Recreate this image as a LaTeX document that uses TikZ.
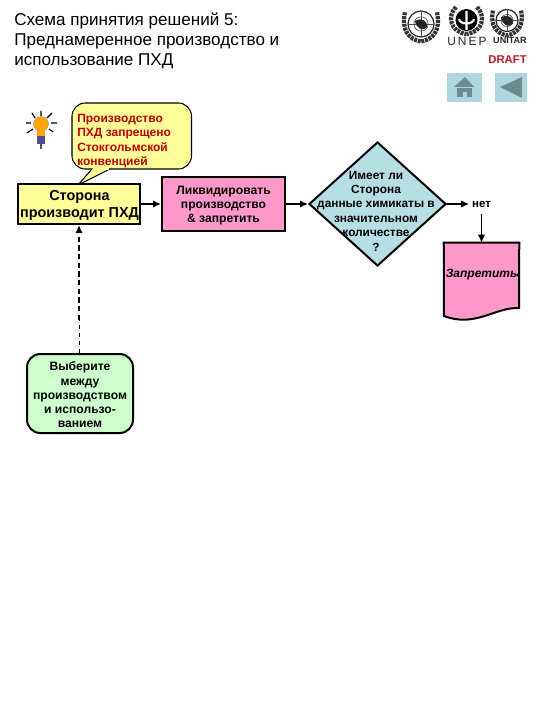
\documentclass[tikz,border=0pt]{standalone}
\usepackage{fontspec}
\setmainfont{Liberation Sans}
\usetikzlibrary{shapes.geometric,arrows.meta,calc}
\definecolor{boxyellow}{HTML}{FFFF99}
\definecolor{boxpink}{HTML}{FF99CC}
\definecolor{boxblue}{HTML}{B7DEE4}
\definecolor{boxgreen}{HTML}{CCFFCC}
\definecolor{draftred}{HTML}{B5202A}
\definecolor{iconbg}{HTML}{AFD6DC}
\definecolor{icongrey}{HTML}{6C8C94}
\definecolor{calloutred}{HTML}{C00000}
\tikzset{
  fb/.style={draw=black,line width=1.5pt,inner sep=0},
  boxtext/.style={inner sep=0,align=center},
  flow/.style={draw=black,line width=1.1pt,-{Latex[length=6pt,width=5.5pt]}},
  ray/.style={line width=0.9pt,black},
  laurel/.style={line width=3.2pt,black!80,dash pattern=on 2.2pt off 0.7pt},
}
\begin{document}
\begin{tikzpicture}[x=0.75pt,y=-0.75pt]
\useasboundingbox (0,0) rectangle (540,720);
% title
\node[anchor=west,inner sep=0,align=left,font=\fontsize{12.8pt}{15pt}\selectfont] (title) at (14,41)
 {Схема принятия решений 5:\\Преднамеренное производство и\\использование ПХД};
% logos
\foreach \n/\cx/\cy/\r in {a/421/24/13,c/507/20.5/11}{
  \coordinate (\n) at (\cx,\cy);
  \draw[line width=.9pt,black!85] (\n) circle[radius=\r];
  \draw[line width=.5pt,black!70] (\n) circle[radius=\r*0.55];
  \draw[line width=.5pt,black!70] ($(\n)+(-\r,0)$) -- ($(\n)+(\r,0)$) ($(\n)+(0,-\r)$) -- ($(\n)+(0,\r)$);
  \fill[black!85] ($(\n)+(-6,-3)$) .. controls ($(\n)+(1,-7)$) and ($(\n)+(7,-3)$) .. ($(\n)+(6,3)$) .. controls ($(\n)+(1,8)$) and ($(\n)+(-5,4)$) .. cycle;
  \draw[laurel] ($(\n)+(-\r-3,-\r*0.9)$) .. controls ($(\n)+(-\r*1.3-3,\r*0.5)$) and ($(\n)+(-\r*0.9,\r*1.2)$) .. ($(\n)+(0,\r*1.35)$);
  \draw[laurel] ($(\n)+(\r+3,-\r*0.9)$) .. controls ($(\n)+(\r*1.3+3,\r*0.5)$) and ($(\n)+(\r*0.9,\r*1.2)$) .. ($(\n)+(0,\r*1.35)$);
}
\coordinate (b) at (466.5,20);
\draw[laurel] (456,7) .. controls (447,16) and (450,32) .. (466.5,34);
\draw[laurel] (477,7) .. controls (486,16) and (483,32) .. (466.5,34);
\fill[black] (b) circle[radius=11];
\draw[white,line width=1.6pt] (466.5,11) -- (466.5,30) (459,19) .. controls (460,25) and (473,25) .. (474,19);
\node[inner sep=0,font=\fontsize{9pt}{10pt}\selectfont,text=black!85] (unep) at (467,41) {U\,N\,E\,P};
\node[inner sep=0,font=\bfseries\fontsize{6.8pt}{8pt}\selectfont,text=black!85] (unitar) at (510,40.5) {UNITAR};
\node[anchor=east,inner sep=0,text=draftred,font=\bfseries\fontsize{8.5pt}{10pt}\selectfont] (draft) at (527,60) {DRAFT};
% nav icons
\fill[iconbg] (447,73) rectangle (482,102);
\fill[iconbg] (495,73) rectangle (527,102);
\fill[icongrey] (454,87) -- (465,77) -- (474,87) -- cycle;
\fill[icongrey] (457,88) rectangle (472,97);
\fill[iconbg] (463,92) rectangle (467,97);
\fill[icongrey] (500,87) -- (522,77) -- (522,98) -- cycle;
% bulb
\coordinate (bulb) at (41,124);
\draw[ray] (35,118) -- (32,113) (31,123) -- (26,123) (33,129) -- (27,133) (41,116) -- (41,111) (47,118) -- (52,113) (51,123) -- (57,123) (49,129) -- (53,132) (41,140) -- (41,149);
\fill[orange!70!yellow,draw=black!40,line width=.3pt] (bulb) circle[radius=7.5];
\fill[orange!70!yellow] (37,128) rectangle (45,136);
\fill[black!60!blue!70!white] (37,136) rectangle (45,144);
% callout
\path[fill=boxyellow,draw=black,line width=.8pt,rounded corners=10pt] (72,103) -- (191.5,103) -- (191.5,169) -- (72,169) -- cycle;
\path[fill=boxyellow,draw=black,line width=.8pt,line join=miter] (92,169) -- (78,185) -- (110,169);
\fill[boxyellow] (92.5,166) rectangle (109,169.6);
\node[anchor=west,inner sep=0,align=left,text=calloutred,font=\bfseries\fontsize{9pt}{10.9pt}\selectfont] (tip) at (77,141)
 {Производство\\ПХД запрещено\\Стокгольмской\\конвенцией};
% flow nodes
\node[fb,fill=boxyellow,minimum width=122pt*.75,minimum height=40pt*.75] (stor) at (79,204) {};
\node[boxtext,font=\bfseries\fontsize{10.8pt}{12.8pt}\selectfont] (stortxt) at (79.5,205.5) {Сторона\\производит ПХД};
\node[fb,fill=boxpink,minimum width=123pt*.75,minimum height=54pt*.75] (liq) at (223.5,204) {};
\node[boxtext,font=\bfseries\fontsize{9.1pt}{10.5pt}\selectfont] (liqtxt) at (223.5,206) {Ликвидировать\\производство\\\&\ запретить};
\node[diamond,draw=black,line width=1.5pt,fill=boxblue,minimum width=137pt*.75,minimum height=124pt*.75,aspect=1.105,inner sep=0] (dec) at (377.5,204) {};
\node[boxtext,font=\bfseries\fontsize{8.9pt}{10.8pt}\selectfont] (dectxt) at (376,211) {Имеет ли\\Сторона\\данные химикаты в\\значительном\\количестве\\?};
\node[inner sep=0,font=\bfseries\fontsize{8.6pt}{10pt}\selectfont,minimum width=24pt*.75,minimum height=20pt*.75] (net) at (481.5,204) {нет};
\node[inner sep=0,minimum width=75pt*.75,minimum height=77pt*.75] (doc) at (481.5,281.5) {};
\draw[fill=boxpink,draw=black,line width=1.5pt] (doc.north west) -- (doc.north east) -- (519,308) .. controls (495,307) and (475,328) .. (444,316) -- cycle;
\node[inner sep=0,font=\bfseries\itshape\fontsize{9pt}{10pt}\selectfont] (doctxt) at (481.5,275) {Запретить};
\fill (517.5,275) circle[radius=1.5];
\node[fb,fill=boxgreen,rounded corners=10pt,minimum width=106pt*.75,minimum height=79pt*.75] (green) at (80,393.5) {};
\node[boxtext,font=\bfseries\fontsize{9.1pt}{10.7pt}\selectfont] (greentxt) at (80,395) {Выберите\\между\\производством\\и использо-\\ванием};
% connectors
\draw[flow] (stor.east) -- (liq.west);
\draw[flow] (liq.east) -- (dec.west);
\draw[flow] (dec.east) -- (net.west);
\draw[flow] (net.south) -- (doc.north);
\coordinate (dashmid) at (79,320);
\draw[line width=.6pt,dashed] (green.north -| stor.south) -- (dashmid);
\draw[line width=1.3pt,dash pattern=on 4pt off 2.5pt,-{Latex[length=6pt,width=5.5pt]}] (dashmid) -- (stor.south);
\end{tikzpicture}
\end{document}
